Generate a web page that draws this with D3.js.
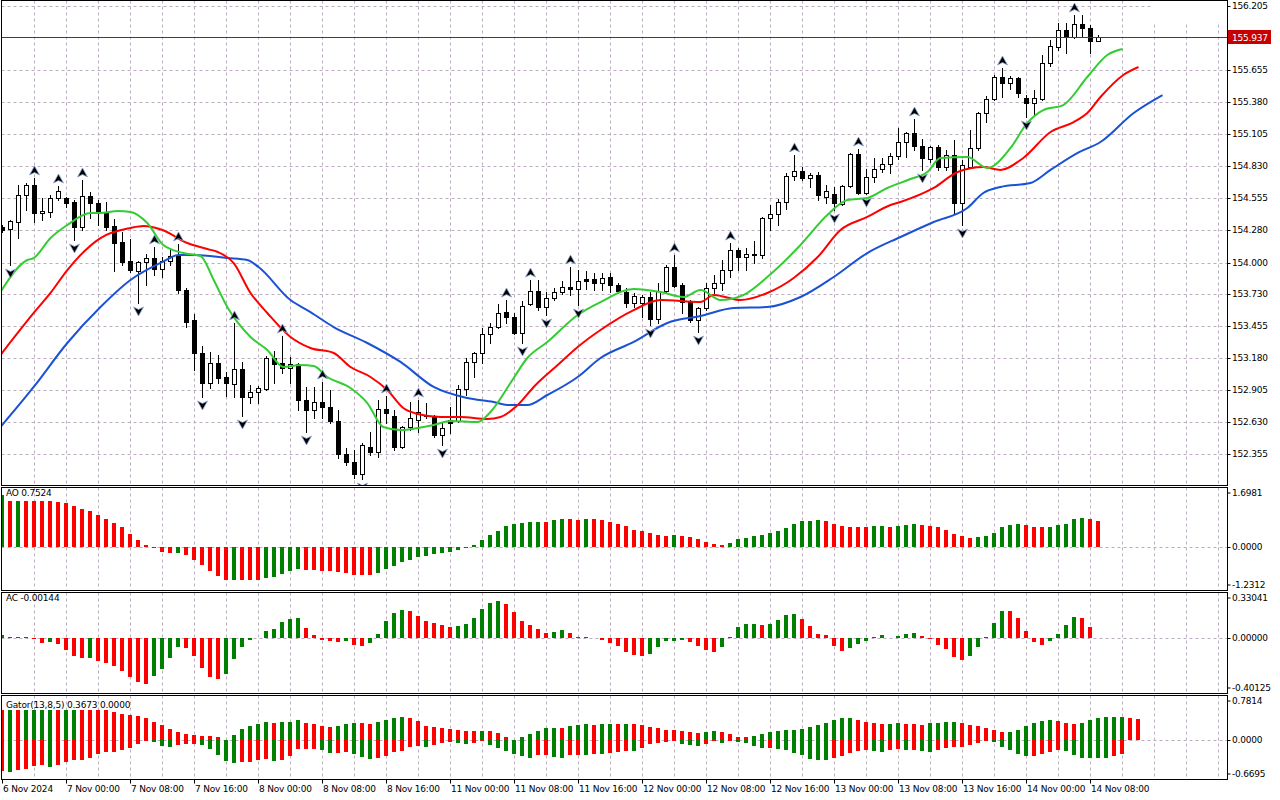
<!DOCTYPE html>
<html>
<head>
<meta charset="utf-8">
<script src="https://cdn.jsdelivr.net/npm/d3@7"></script>
<style>
  body { margin: 0; background: #fff; }
  svg { display: block; }
  text { font-family: "DejaVu Sans", Verdana, sans-serif; font-size: 9px; letter-spacing: -0.2px; fill: #000; }
</style>
</head>
<body>
<div id="chart"></div>
<script>
// H1 bars, index 0 = 6 Nov 16:00
var openP = [154.306,154.289,154.349,154.581,154.667,154.426,154.435,154.555,154.555,154.521,
 154.306,154.572,154.512,154.435,154.314,154.177,154.014,153.928,154.005,154.039,
 153.945,154.014,154.065,153.764,153.507,153.223,152.965,153.137,153.017,152.957,
 153.086,152.845,152.888,152.914,153.180,153.137,153.094,153.128,152.819,152.733,
 152.802,152.759,152.639,152.355,152.286,152.183,152.415,152.372,152.742,152.682,
 152.415,152.587,152.647,152.690,152.673,152.518,152.647,152.639,152.914,153.146,
 153.223,153.386,153.446,153.575,153.532,153.395,153.644,153.756,153.618,153.696,
 153.747,153.790,153.773,153.859,153.859,153.825,153.876,153.807,153.747,153.653,
 153.653,153.704,153.515,153.756,153.962,153.807,153.661,153.507,153.610,153.782,
 153.825,153.936,154.108,154.048,154.074,154.065,154.383,154.418,154.521,154.744,
 154.787,154.727,154.753,154.564,154.589,154.503,154.658,154.933,154.598,154.736,
 154.804,154.847,154.916,155.036,155.114,155.002,154.890,154.993,154.821,154.925,
 154.512,154.821,154.985,155.286,155.406,155.595,155.543,155.586,155.414,155.371,
 155.406,155.715,155.853,155.999,155.939,156.050,156.016,155.904];
var highP = [154.323,154.366,154.667,154.684,154.727,154.555,154.581,154.658,154.564,154.538,
 154.710,154.607,154.538,154.521,154.375,154.263,154.203,154.014,154.074,154.134,
 154.048,154.108,154.160,153.782,153.558,153.283,153.232,153.206,153.060,153.481,
 153.146,152.948,152.939,153.197,153.240,153.369,153.189,153.137,152.931,152.931,
 152.974,152.905,152.733,152.407,152.389,152.450,152.544,152.819,152.854,152.733,
 152.595,152.802,152.819,152.793,152.690,152.630,152.759,152.948,153.180,153.232,
 153.438,153.481,153.644,153.678,153.567,153.670,153.850,153.850,153.747,153.782,
 153.842,153.962,153.936,153.928,153.911,153.911,153.911,153.825,153.782,153.739,
 153.721,153.747,153.825,153.979,154.065,153.825,153.678,153.618,153.825,153.893,
 154.022,154.168,154.125,154.125,154.186,154.392,154.495,154.546,154.770,154.925,
 154.821,154.770,154.778,154.667,154.650,154.667,154.942,154.976,154.804,154.899,
 154.899,154.942,155.157,155.122,155.234,155.062,155.002,155.011,154.968,155.053,
 154.882,155.139,155.294,155.432,155.612,155.672,155.603,155.595,155.440,155.483,
 155.784,155.913,156.059,156.059,156.128,156.128,156.042,155.956];
var lowP = [154.263,153.979,154.211,154.452,154.349,154.366,154.392,154.538,154.478,154.194,
 154.280,154.383,154.323,154.280,153.928,153.979,153.919,153.653,153.807,153.893,
 153.876,153.979,153.739,153.446,153.077,152.845,152.922,152.965,152.854,152.845,
 152.682,152.793,152.793,152.905,152.965,153.051,152.965,152.733,152.544,152.664,
 152.664,152.621,152.321,152.260,152.149,152.140,152.346,152.329,152.621,152.389,
 152.407,152.561,152.544,152.664,152.501,152.432,152.536,152.630,152.862,153.017,
 153.137,153.309,153.438,153.481,153.386,153.309,153.635,153.592,153.550,153.678,
 153.730,153.721,153.635,153.773,153.764,153.764,153.747,153.739,153.618,153.618,
 153.532,153.464,153.481,153.747,153.790,153.567,153.489,153.403,153.592,153.739,
 153.764,153.876,153.936,153.936,153.996,154.039,154.280,154.323,154.461,154.710,
 154.710,154.650,154.538,154.512,154.452,154.495,154.650,154.589,154.589,154.693,
 154.778,154.770,154.890,154.907,154.968,154.796,154.864,154.796,154.796,154.426,
 154.323,154.813,154.968,155.208,155.397,155.423,155.492,155.423,155.251,155.268,
 155.397,155.689,155.827,155.801,155.930,155.939,155.801,155.904];
var closeP = [154.280,154.357,154.581,154.667,154.426,154.443,154.555,154.615,154.512,154.306,
 154.572,154.512,154.435,154.306,154.168,154.005,153.936,154.005,154.039,153.945,
 154.014,154.057,153.764,153.489,153.223,152.965,153.137,153.008,152.965,153.086,
 152.845,152.888,152.922,153.180,153.128,153.094,153.128,152.819,152.733,152.802,
 152.759,152.639,152.355,152.286,152.183,152.432,152.372,152.742,152.707,152.415,
 152.587,152.664,152.716,152.682,152.518,152.578,152.621,152.914,153.146,153.223,
 153.386,153.446,153.567,153.532,153.395,153.627,153.756,153.618,153.696,153.747,
 153.790,153.773,153.842,153.842,153.825,153.868,153.807,153.756,153.653,153.713,
 153.704,153.515,153.756,153.962,153.799,153.661,153.507,153.610,153.782,153.825,
 153.936,154.108,154.048,154.074,154.069,154.383,154.418,154.521,154.744,154.787,
 154.727,154.753,154.581,154.615,154.512,154.658,154.933,154.598,154.736,154.804,
 154.847,154.916,155.036,155.114,155.002,154.899,154.993,154.821,154.925,154.512,
 154.839,154.985,155.286,155.406,155.595,155.543,155.586,155.457,155.371,155.414,
 155.715,155.861,155.999,155.939,156.050,156.016,155.904,155.937];

// Bill Williams fractals (bar indices)
var fractalUp = [4,7,10,19,22,29,35,40,48,52,63,66,71,84,91,99,107,114,125,134];
var fractalDown = [1,9,17,25,30,38,45,55,65,68,72,81,87,104,108,115,120,128];

// Alligator lines, [bar, price]
var jaw = [[-0.25,152.587],[3.9,152.931],[8.1,153.309],[12.25,153.618],[16,153.850],[20,154.005],[22,154.065],[24,154.065],[28.1,154.039],[30.6,154.022],[32,153.962],[36,153.678],[38.5,153.575],[41.4,153.446],[45.6,153.309],[49.75,153.146],[53.9,152.931],[58.1,152.836],[61.4,152.802],[63.1,152.776],[65.6,152.776],[68.1,152.862],[71.9,153.017],[74.75,153.180],[78.9,153.318],[83.1,153.481],[87.25,153.541],[91.4,153.610],[95.6,153.618],[99.75,153.704],[103.9,153.876],[108.1,154.082],[112.25,154.220],[116.4,154.349],[120.6,154.469],[122.6,154.598],[124.75,154.650],[128.5,154.684],[131,154.796],[134.4,154.942],[137.25,155.036],[141.4,155.286],[145,155.440]];
var teeth = [[-0.25,153.206],[3.9,153.567],[6,153.739],[8.1,153.936],[12.25,154.211],[16,154.297],[17.6,154.314],[20,154.280],[23.1,154.168],[25.6,154.117],[26.9,154.091],[28.9,153.996],[31,153.739],[33.1,153.567],[36,153.361],[38.5,153.266],[41.4,153.223],[43.5,153.103],[46,153.017],[48.1,152.905],[50.1,152.750],[51.9,152.699],[54.75,152.673],[57.25,152.673],[60.6,152.656],[62.25,152.673],[64.4,152.776],[66.4,152.931],[69.4,153.120],[71.9,153.275],[74.75,153.421],[78.9,153.592],[82.25,153.678],[87.25,153.661],[88.9,153.721],[92.25,153.678],[95.6,153.739],[98.9,153.868],[101.9,154.048],[104.75,154.280],[108.1,154.392],[111,154.495],[112.25,154.521],[116.4,154.641],[119.4,154.778],[122.6,154.821],[124.75,154.796],[127.6,154.899],[131,155.122],[133.9,155.208],[135.6,155.286],[137.25,155.423],[140.1,155.612],[142,155.681]];
var lips = [[-0.25,153.747],[3.1,154.022],[3.9,154.039],[6,154.211],[8.1,154.323],[11,154.426],[12.25,154.426],[14.4,154.443],[16,154.435],[18.1,154.340],[20.1,154.151],[22.6,154.082],[24.75,154.057],[26.4,153.850],[28.1,153.618],[31,153.361],[33.1,153.249],[35.1,153.103],[37.25,153.120],[38.9,153.111],[40.6,153.017],[43.5,152.922],[45.6,152.793],[47.6,152.587],[49.75,152.561],[51.9,152.578],[53.9,152.604],[56,152.639],[59.4,152.630],[61,152.716],[63.5,152.965],[65.6,153.180],[68.1,153.318],[71.9,153.550],[74.75,153.661],[78.9,153.773],[82.25,153.747],[85.1,153.704],[87.25,153.764],[89.75,153.678],[92.6,153.721],[95.6,153.876],[99.75,154.151],[103.1,154.409],[105.6,154.538],[108.1,154.555],[110.6,154.641],[113.5,154.718],[115.6,154.778],[117.25,154.899],[120.6,154.907],[123.1,154.813],[126,154.985],[128.1,155.200],[130.1,155.311],[132.6,155.354],[135.6,155.595],[138.1,155.784],[140,155.835]];

// Awesome Oscillator (first value = bar before the window)
var aoValues = [1.45,
 1.489,1.324,1.334,1.322,1.318,1.314,1.310,1.305,1.276,1.189,
 1.102,1.044,0.928,0.812,0.696,0.561,0.377,0.203,0.039,-0.029,
 -0.164,-0.193,-0.190,-0.251,-0.377,-0.541,-0.715,-0.860,-0.977,-0.975,
 -0.978,-0.980,-0.982,-0.918,-0.889,-0.802,-0.715,-0.657,-0.686,-0.690,
 -0.715,-0.718,-0.744,-0.773,-0.831,-0.834,-0.837,-0.773,-0.657,-0.570,
 -0.454,-0.396,-0.304,-0.271,-0.222,-0.193,-0.164,-0.106,-0.039,0.058,
 0.203,0.348,0.464,0.590,0.648,0.677,0.706,0.725,0.723,0.764,
 0.793,0.790,0.764,0.795,0.792,0.764,0.706,0.667,0.590,0.493,
 0.445,0.387,0.329,0.300,0.329,0.298,0.271,0.213,0.145,0.087,
 0.058,0.116,0.213,0.251,0.300,0.348,0.387,0.445,0.541,0.648,
 0.735,0.754,0.756,0.740,0.667,0.590,0.580,0.578,0.561,0.590,
 0.609,0.580,0.590,0.638,0.640,0.636,0.609,0.561,0.493,0.377,
 0.300,0.261,0.271,0.300,0.406,0.561,0.638,0.667,0.638,0.561,
 0.558,0.565,0.619,0.667,0.793,0.830,0.800,0.7524];

// Accelerator Oscillator (first value = bar before the window)
var acValues = [0.010,
 0.017,0.007,0.008,0.002,-0.010,-0.041,-0.031,-0.048,-0.092,-0.135,
 -0.150,-0.148,-0.171,-0.181,-0.208,-0.244,-0.287,-0.324,-0.333,-0.280,
 -0.229,-0.150,-0.070,-0.072,-0.135,-0.222,-0.287,-0.302,-0.266,-0.157,
 -0.070,-0.019,-0.004,0.046,0.060,0.111,0.138,0.140,0.072,0.022,
 -0.019,-0.027,-0.034,-0.027,-0.053,-0.063,-0.041,0.029,0.123,0.181,
 0.203,0.196,0.159,0.123,0.109,0.094,0.080,0.081,0.101,0.145,
 0.210,0.254,0.268,0.246,0.188,0.123,0.094,0.065,0.036,0.043,
 0.058,0.036,0.007,0.008,-0.002,-0.019,-0.041,-0.063,-0.106,-0.128,
 -0.135,-0.121,-0.070,-0.027,-0.022,-0.019,-0.034,-0.063,-0.092,-0.106,
 -0.070,0.005,0.080,0.101,0.102,0.094,0.101,0.130,0.167,0.174,
 0.138,0.087,0.024,0.022,-0.058,-0.099,-0.077,-0.048,-0.027,0.007,
 0.022,-0.005,0.014,0.029,0.036,0.014,-0.007,-0.056,-0.085,-0.142,
 -0.164,-0.135,-0.070,0.007,0.109,0.196,0.195,0.145,0.051,-0.034,
 -0.056,-0.027,0.029,0.094,0.152,0.145,0.080,-0.00144];

// Gator oscillator: upper |jaw-teeth|, lower |teeth-lips| (first value = bar before the window)
var gatorUpper = [0.520,
 0.515,0.518,0.516,0.519,0.520,0.521,0.522,0.520,0.521,0.522,
 0.520,0.519,0.518,0.517,0.484,0.449,0.432,0.415,0.380,0.311,
 0.259,0.190,0.138,0.104,0.086,0.069,0.068,0.052,0.008,0.086,
 0.190,0.242,0.276,0.311,0.294,0.311,0.312,0.345,0.294,0.276,
 0.242,0.225,0.242,0.276,0.294,0.293,0.276,0.311,0.345,0.380,
 0.397,0.380,0.328,0.242,0.225,0.207,0.190,0.173,0.155,0.154,
 0.156,0.153,0.121,0.052,0.010,0.052,0.104,0.155,0.207,0.208,
 0.206,0.242,0.259,0.276,0.259,0.276,0.277,0.275,0.277,0.276,
 0.259,0.225,0.207,0.173,0.172,0.155,0.138,0.121,0.138,0.155,
 0.138,0.104,0.052,0.051,0.069,0.104,0.138,0.155,0.173,0.174,
 0.190,0.225,0.259,0.294,0.345,0.380,0.381,0.345,0.311,0.294,
 0.276,0.277,0.294,0.276,0.275,0.259,0.294,0.295,0.311,0.312,
 0.294,0.259,0.242,0.207,0.173,0.138,0.139,0.173,0.242,0.294,
 0.328,0.345,0.328,0.294,0.276,0.294,0.345,0.380,0.397,0.398,
 0.399,0.380,0.3673];
var gatorLower = [0.550,
 0.530,0.541,0.518,0.501,0.443,0.426,0.461,0.426,0.374,0.340,
 0.339,0.305,0.236,0.202,0.201,0.167,0.132,0.063,0.012,0.029,
 0.098,0.115,0.081,0.063,0.062,0.081,0.150,0.253,0.357,0.392,
 0.374,0.373,0.340,0.322,0.357,0.340,0.271,0.150,0.149,0.148,
 0.167,0.219,0.218,0.202,0.236,0.288,0.322,0.305,0.271,0.202,
 0.184,0.115,0.098,0.115,0.081,0.046,0.029,0.046,0.063,0.046,
 0.012,0.081,0.132,0.184,0.236,0.271,0.305,0.253,0.252,0.288,
 0.305,0.253,0.252,0.254,0.236,0.237,0.219,0.202,0.184,0.186,
 0.132,0.063,0.046,0.029,0.012,0.063,0.081,0.098,0.063,0.012,
 0.046,0.012,0.029,0.046,0.098,0.132,0.131,0.150,0.167,0.219,
 0.253,0.322,0.340,0.341,0.305,0.271,0.219,0.184,0.167,0.184,
 0.202,0.167,0.150,0.167,0.166,0.184,0.202,0.167,0.132,0.115,
 0.114,0.081,0.046,0.012,0.029,0.115,0.167,0.236,0.271,0.270,
 0.236,0.202,0.167,0.184,0.253,0.305,0.306,0.307,0.308,0.271,
 0.236];

// axis labels
var priceTicks = [156.205,155.655,155.380,155.105,154.830,154.555,154.280,154.000,153.730,153.455,153.180,152.905,152.630,152.355];
var currentPrice = 155.937;
var aoTicks = [1.6981, 0, -1.2312];
var acTicks = [0.33041, 0, -0.40125];
var gatorTicks = [0.7814, 0, -0.6695];
var timeBars = [0,8,16,24,32,40,48,56,64,72,80,88,96,104,112,120,128,136];
var timeLabels = ["6 Nov 2024","7 Nov 00:00","7 Nov 08:00","7 Nov 16:00","8 Nov 00:00","8 Nov 08:00","8 Nov 16:00",
 "11 Nov 00:00","11 Nov 08:00","11 Nov 16:00","12 Nov 00:00","12 Nov 08:00","12 Nov 16:00",
 "13 Nov 00:00","13 Nov 08:00","13 Nov 16:00","14 Nov 00:00","14 Nov 08:00"];

//Layout
var w = 1280, h = 800;
var left = 1.5, right = 1227.5;
var panels = {
  main:  {top: 0.5,   bottom: 485.5},
  ao:    {top: 487.5, bottom: 590.5},
  ac:    {top: 592.5, bottom: 693.5},
  gator: {top: 695.5, bottom: 779.5}
};
var gridColor = "#bcaec0";
var upColor = "#008000", downColor = "#ff0000";

var svg = d3.select("#chart").append("svg")
  .attr("width", w).attr("height", h);

//Scales
var x = d3.scaleLinear().domain([0, 1]).range([2.5, 10.5]);
var yPrice = d3.scaleLinear().domain([152.0886, 156.2566]).range([485, 0]);
var yAO = d3.scaleLinear().domain([-1.2312, 1.6981]).range([589, 488]);
var yAC = d3.scaleLinear().domain([-0.40125, 0.33041]).range([693, 592]);
var yGator = d3.scaleLinear().domain([-0.6695, 0.7814]).range([779, 695]);

//Clip paths
var defs = svg.append("defs");
Object.keys(panels).forEach(function (k) {
  var p = panels[k];
  defs.append("clipPath").attr("id", "clip-" + k)
    .append("rect")
    .attr("x", 2).attr("y", p.top + 0.5)
    .attr("width", right - 2.5).attr("height", p.bottom - p.top - 1);
});

//Vertical grid in every panel
var gridBars = d3.range(4, 153, 4);
Object.keys(panels).forEach(function (k) {
  var p = panels[k];
  svg.append("g").selectAll("line")
    .data(gridBars).enter().append("line")
    .attr("x1", d => Math.floor(x(d)) + 0.5).attr("x2", d => Math.floor(x(d)) + 0.5)
    .attr("y1", p.top).attr("y2", p.bottom)
    .attr("stroke", gridColor).attr("stroke-dasharray", "3,3");
});

//Horizontal grid in main panel
svg.append("g").selectAll("line")
  .data(priceTicks).enter().append("line")
  .attr("x1", left).attr("x2", right)
  .attr("y1", d => Math.round(yPrice(d)) + 0.5).attr("y2", d => Math.round(yPrice(d)) + 0.5)
  .attr("stroke", gridColor).attr("stroke-dasharray", "3,3");

//Zero lines in sub panels
[yAO, yAC, yGator].forEach(function (sc) {
  svg.append("line")
    .attr("x1", left).attr("x2", right)
    .attr("y1", Math.round(sc(0)) + 0.5).attr("y2", Math.round(sc(0)) + 0.5)
    .attr("stroke", gridColor).attr("stroke-dasharray", "3,3");
});

//Blank corner at top right
svg.append("rect").attr("x", 1151).attr("y", 1).attr("width", 76).attr("height", 23).attr("fill", "#fff");

//Candles
var bars = d3.range(openP.length);
var main = svg.append("g").attr("clip-path", "url(#clip-main)");
var candles = main.selectAll(".candle").data(bars).enter().append("g").attr("class", "candle");
candles.append("line")
  .attr("x1", d => x(d)).attr("x2", d => x(d))
  .attr("y1", d => Math.round(yPrice(highP[d]))).attr("y2", d => Math.round(yPrice(lowP[d])) + 1)
  .attr("stroke", "#000");
candles.append("rect")
  .attr("x", d => x(d) - 2)
  .attr("y", d => Math.round(yPrice(Math.max(openP[d], closeP[d]))) + 0.5)
  .attr("width", 4)
  .attr("height", d => Math.max(0.01, Math.round(yPrice(Math.min(openP[d], closeP[d]))) - Math.round(yPrice(Math.max(openP[d], closeP[d])))))
  .attr("fill", d => closeP[d] > openP[d] ? "#fff" : "#000")
  .attr("stroke", "#000");

//Alligator
var line = d3.line().x(d => x(d[0])).y(d => yPrice(d[1])).curve(d3.curveMonotoneX);
[[jaw, "#1a52d4"], [teeth, "#ff0000"], [lips, "#32cd32"]].forEach(function (s) {
  main.append("path").datum(s[0])
    .attr("d", line).attr("fill", "none")
    .attr("stroke", s[1]).attr("stroke-width", 2);
});

//Fractals
function arrow(g, list, up) {
  g.selectAll(null).data(list).enter().append("path")
    .attr("transform", d => "translate(" + x(d) + "," + (up ? yPrice(highP[d]) - 7 : yPrice(lowP[d]) + 8) + ")" + (up ? "" : " rotate(180)"))
    .attr("d", "M0,-5L5,4L0,1.5L-5,4Z")
    .attr("fill", "#000").attr("stroke", "#8ea6d6").attr("stroke-width", 0.8);
}
arrow(main, fractalUp, true);
arrow(main, fractalDown, false);

//Current price line
var yCur = Math.round(yPrice(currentPrice)) + 0.5;
svg.append("line").attr("x1", left).attr("x2", right).attr("y1", yCur).attr("y2", yCur)
  .attr("stroke", "#a01414");

//Histograms, coloured by rise or fall against the previous bar
function histogram(key, values, sc, sign) {
  var g = svg.append("g").attr("clip-path", "url(#clip-" + key + ")");
  var zero = Math.round(sc(0));
  var vals = values.slice(1).map((v, i) => ({i: i, v: v, prev: values[i]}));
  g.selectAll("rect").data(vals).enter().append("rect")
    .attr("x", d => x(d.i) - 2.5)
    .attr("width", 4)
    .attr("y", d => Math.min(zero, Math.round(sc(sign * d.v))))
    .attr("height", d => Math.abs(Math.round(sc(sign * d.v)) - zero))
    .attr("fill", d => d.v > d.prev ? upColor : downColor);
}
histogram("ao", aoValues, yAO, 1);
histogram("ac", acValues, yAC, 1);
histogram("gator", gatorUpper, yGator, 1);
histogram("gator", gatorLower, yGator, -1);

//Panel frames
Object.keys(panels).forEach(function (k) {
  var p = panels[k];
  svg.append("rect").attr("x", left).attr("y", p.top)
    .attr("width", right - left).attr("height", p.bottom - p.top)
    .attr("fill", "none").attr("stroke", "#000");
});

//Price axis
var axisX = 1232;
svg.append("g").selectAll("text").data(priceTicks).enter().append("text")
  .attr("x", axisX).attr("y", d => Math.round(yPrice(d))).attr("dy", "0.35em").text(d => d.toFixed(3));
svg.append("g").selectAll("line").data(priceTicks).enter().append("line")
  .attr("x1", right).attr("x2", right + 3)
  .attr("y1", d => Math.round(yPrice(d)) + 0.5).attr("y2", d => Math.round(yPrice(d)) + 0.5)
  .attr("stroke", "#000");

svg.append("rect").attr("x", 1228).attr("y", yCur - 7.5).attr("width", 43).attr("height", 14).attr("fill", "#c80000");
svg.append("text").attr("x", axisX).attr("y", yCur).attr("dy", "0.35em").style("fill", "#fff").text(currentPrice.toFixed(3));

//Sub panel axes
function subAxis(key, ticks, sc, digits) {
  var p = panels[key];
  var ys = ticks.map(v => Math.max(p.top + 5, Math.min(p.bottom - 6, Math.round(sc(v)))));
  var g = svg.append("g");
  g.selectAll("text").data(ticks).enter().append("text")
    .attr("x", axisX).attr("y", (d, i) => ys[i]).attr("dy", "0.35em").text(d => d.toFixed(digits));
  g.selectAll("line").data(ticks).enter().append("line")
    .attr("x1", right).attr("x2", right + 3)
    .attr("y1", (d, i) => ys[i] + 0.5).attr("y2", (d, i) => ys[i] + 0.5)
    .attr("stroke", "#000");
}
subAxis("ao", aoTicks, yAO, 4);
subAxis("ac", acTicks, yAC, 5);
subAxis("gator", gatorTicks, yGator, 4);

//Sub panel titles
svg.append("text").attr("x", 6).attr("y", 496).text("AO " + aoValues[aoValues.length - 1].toFixed(4));
svg.append("text").attr("x", 6).attr("y", 601).text("AC " + acValues[acValues.length - 1].toFixed(5));
svg.append("text").attr("x", 6).attr("y", 708).text("Gator(13,8,5) " + gatorUpper[gatorUpper.length - 1].toFixed(4) + " 0.0000");

//Time axis
var tg = svg.append("g");
tg.selectAll("line").data(timeBars).enter().append("line")
  .attr("x1", d => Math.floor(x(d)) + 0.5).attr("x2", d => Math.floor(x(d)) + 0.5)
  .attr("y1", panels.gator.bottom).attr("y2", panels.gator.bottom + 4)
  .attr("stroke", "#000");
tg.selectAll("text").data(timeBars).enter().append("text")
  .attr("x", d => Math.floor(x(d)) + 1)
  .attr("y", 792)
  .text((d, i) => timeLabels[i]);
</script>
</body>
</html>
